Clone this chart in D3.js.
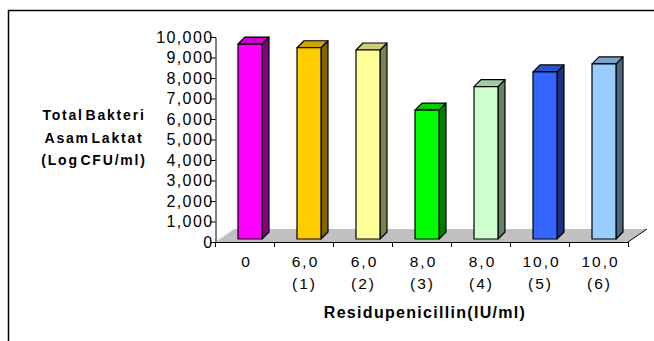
<!DOCTYPE html>
<html>
<head>
<meta charset="utf-8">
<script src="https://cdn.jsdelivr.net/npm/d3@7"></script>
<style>
  body { margin: 0; background: #fff; }
  text { font-family: "Liberation Sans", Arial, sans-serif; fill: #000; }
</style>
</head>
<body>
<div id="chart"></div>
<script>
var doseLabels = ["0", "6,0", "6,0", "8,0", "8,0", "10,0", "10,0"];
var groupLabels = ["", "(1)", "(2)", "(3)", "(4)", "(5)", "(6)"];
var values = [9.51, 9.33, 9.22, 6.29, 7.43, 8.15, 8.54];
var barColors = ["#ff00ff", "#ffcc00", "#ffff99", "#00ff00", "#ccffcc", "#3366ff", "#99ccff"];
var yTicks = [0, 1, 2, 3, 4, 5, 6, 7, 8, 9, 10];
var yTitle = ["Total Bakteri", "Asam Laktat", "(Log CFU/ml)"];
var xTitle = "Residupenicillin(IU/ml)";

function init() {
    var w = 654;
    var h = 341;

    var svg = d3.select("#chart")
                .append("svg")
                .attr("width", w)
                .attr("height", h);

    // outer frame, runs off the right and bottom edges
    svg.append("rect")
        .attr("x", 8.5).attr("y", 10.5)
        .attr("width", 700).attr("height", 400)
        .attr("fill", "none")
        .attr("stroke", "#000")
        .attr("stroke-width", 1.5);

    var x = d3.scaleBand()
              .domain(d3.range(values.length))
              .range([215, 628]);
    var y = d3.scaleLinear()
              .domain([0, 10])
              .range([242, 37]);

    var step = x.step();
    var barW = 24;
    var shiftX = 5.5, shiftY = 3;   // bars sit a bit back from the front edge
    var dx = 7, dy = 7;             // bar depth
    var fx = 19, fy = 13;           // floor depth

    var loc = d3.formatLocale({decimal: ",", thousands: ".", grouping: [3], currency: ["", ""]});
    var fmt3 = loc.format(".3f");
    var fmt = function(d) { return d === 0 ? "0" : fmt3(d); };

    // floor
    var x0 = x.range()[0], x1 = x.range()[1], y0 = y(0);
    svg.append("path")
        .attr("d", "M" + x0 + "," + y0 + "L" + (x0 + fx) + "," + (y0 - fy) +
                   "L" + (x1 + fx) + "," + (y0 - fy) + "L" + x1 + "," + y0 + "Z")
        .attr("fill", "#c0c0c0")
        .attr("stroke", "none");
    svg.append("line")
        .attr("x1", x0 + 0.5).attr("y1", y0).attr("x2", x0 + fx).attr("y2", y0 - fy)
        .attr("stroke", "#e6e6e6");
    svg.append("line")
        .attr("x1", x1).attr("y1", y0).attr("x2", x1 + fx).attr("y2", y0 - fy)
        .attr("stroke", "#000");

    // bars
    function shade(c, k) {
        var r = d3.rgb(c);
        return d3.rgb(r.r * k, r.g * k, r.b * k).formatHex();
    }

    var bars = svg.selectAll("g.bar")
                  .data(values)
                  .enter()
                  .append("g")
                  .attr("class", "bar");

    bars.each(function(d, i) {
        var g = d3.select(this);
        var left = x(i) + step / 2 - barW / 2 + shiftX;
        var right = left + barW;
        var top = y(d) - shiftY;
        var bottom = y(0) - shiftY;
        g.append("path")
            .attr("d", "M" + right + "," + bottom + "L" + (right + dx) + "," + (bottom - dy) +
                       "L" + (right + dx) + "," + (top - dy) + "L" + right + "," + top + "Z")
            .attr("fill", shade(barColors[i], 0.5));
        g.append("path")
            .attr("d", "M" + left + "," + top + "L" + (left + dx) + "," + (top - dy) +
                       "L" + (right + dx) + "," + (top - dy) + "L" + right + "," + top + "Z")
            .attr("fill", shade(barColors[i], 0.8));
        g.append("rect")
            .attr("x", left).attr("y", top)
            .attr("width", barW).attr("height", bottom - top)
            .attr("fill", barColors[i]);
        g.selectAll("path, rect")
            .attr("stroke", "#000")
            .attr("stroke-width", 1.2)
            .attr("stroke-linejoin", "round");
    });

    // x axis line and ticks
    svg.append("line")
        .attr("x1", x0).attr("y1", y0 + 0.5).attr("x2", x1).attr("y2", y0 + 0.5)
        .attr("stroke", "#000");
    svg.selectAll("line.xtick")
        .data(d3.range(values.length + 1))
        .enter()
        .append("line")
        .attr("class", "xtick")
        .attr("x1", function(d) { return Math.round(x0 + d * step) + 0.5; })
        .attr("x2", function(d) { return Math.round(x0 + d * step) + 0.5; })
        .attr("y1", y0).attr("y2", y0 + 5)
        .attr("stroke", "#000");

    // y axis
    var yAxis = svg.append("g")
                   .attr("transform", "translate(" + (x0 + 0.5) + ",0)")
                   .call(d3.axisLeft(y).tickValues(yTicks).tickFormat(fmt).tickSize(5).tickPadding(-3));
    yAxis.select(".domain").attr("stroke", "#000");
    yAxis.selectAll(".tick line").attr("stroke", "#000");
    yAxis.selectAll(".tick text")
        .attr("font-family", "Liberation Sans, Arial, sans-serif")
        .attr("font-size", "16px")
        .attr("letter-spacing", "1.4px")
        .attr("fill", "#000");

    // category labels
    svg.selectAll("text.dose")
        .data(doseLabels)
        .enter()
        .append("text")
        .attr("class", "dose")
        .attr("x", function(d, i) { return x(i) + step / 2 + 2; })
        .attr("y", 267)
        .attr("text-anchor", "middle")
        .attr("font-size", "15.5px")
        .attr("letter-spacing", "2px")
        .text(function(d) { return d; });
    svg.selectAll("text.group")
        .data(groupLabels)
        .enter()
        .append("text")
        .attr("class", "group")
        .attr("x", function(d, i) { return x(i) + step / 2 + 1; })
        .attr("y", 289)
        .attr("text-anchor", "middle")
        .attr("font-size", "15.5px")
        .attr("letter-spacing", "2px")
        .text(function(d) { return d; });

    // axis titles
    svg.append("text")
        .attr("x", 425).attr("y", 318)
        .attr("text-anchor", "middle")
        .attr("font-size", "16px")
        .attr("font-weight", "bold")
        .attr("letter-spacing", "1.3px")
        .text(xTitle);

    svg.selectAll("text.ytitle")
        .data(yTitle)
        .enter()
        .append("text")
        .attr("class", "ytitle")
        .attr("x", 94)
        .attr("y", function(d, i) { return 120 + i * 22.5; })
        .attr("text-anchor", "middle")
        .attr("font-size", "14px")
        .attr("font-weight", "bold")
        .attr("letter-spacing", "1.8px")
        .attr("word-spacing", "-4px")
        .text(function(d) { return d; });
}

window.onload = init;
</script>
</body>
</html>
